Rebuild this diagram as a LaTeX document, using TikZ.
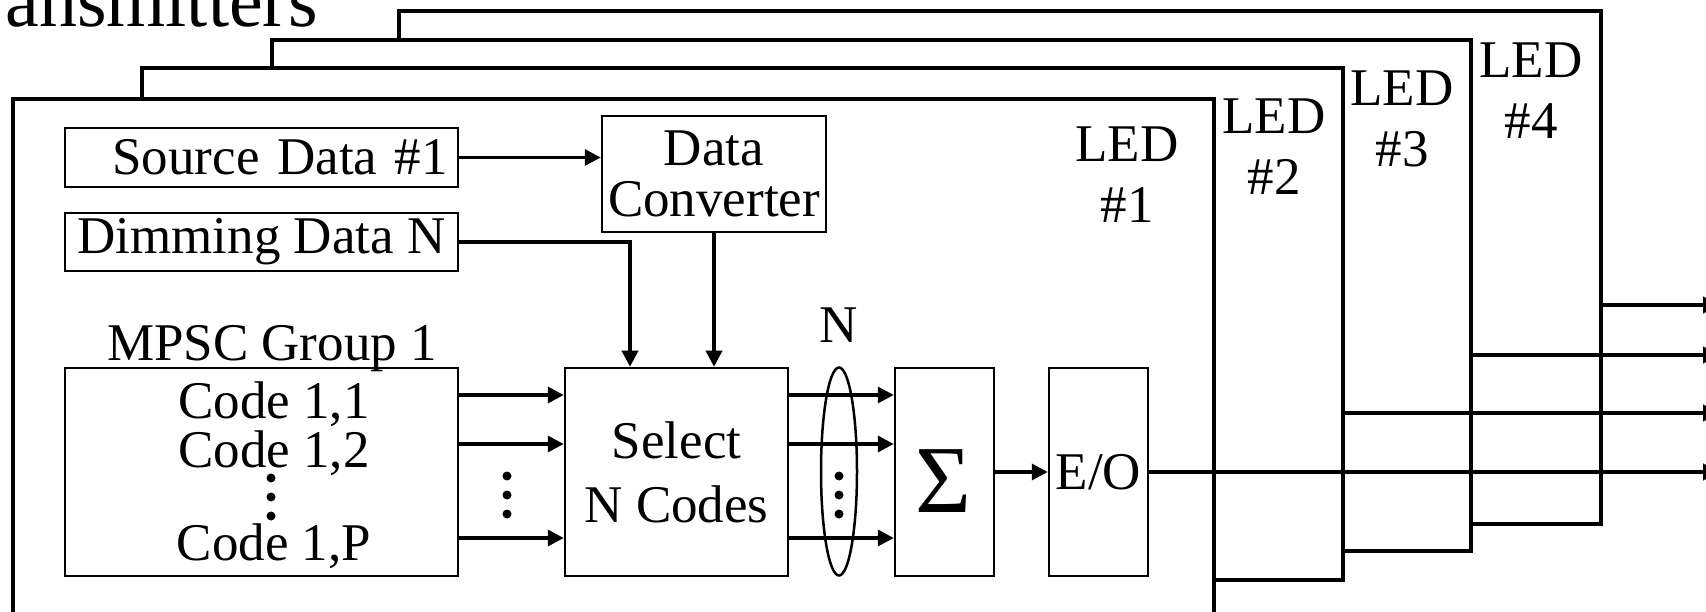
\documentclass[tikz,border=0pt]{standalone}
\usepackage{fontspec}
\setmainfont{Liberation Serif}
\usepackage{tikz}
\usetikzlibrary{arrows.meta,positioning,calc,shapes.geometric}

\begin{document}
\begin{tikzpicture}[
  x=1pt, y=-1pt,
  font=\fontsize{53}{61}\selectfont,
  frame/.style={draw, line width=4pt, fill=white, inner sep=0pt},
  box/.style={draw, line width=2.5pt, fill=white, inner sep=0pt, align=center},
  lbl/.style={inner sep=0pt, align=center},
  ar/.style={-{Triangle[length=16pt,width=16pt]}, line width=3.5pt},
  arout/.style={-{Triangle[length=16pt,width=16pt]}, line width=4pt},
]
\useasboundingbox (0,0) rectangle (1706,612);
\clip (0,0) rectangle (1706,612);

% --- stacked LED transmitters (back to front) ---
\node[frame, minimum width=1202pt, minimum height=513pt] (led4) at (1000,267.5) {};
\node[frame, minimum width=1199pt, minimum height=511pt] (led3) at (871.5,295.5) {};
\node[frame, minimum width=1201pt, minimum height=512pt] (led2) at (742.5,324) {};
\node[frame, minimum width=1201pt, minimum height=541pt] (led1) at (613.5,369.5) {};
\node[lbl, anchor=base east, font=\fontsize{76}{80}\selectfont] (title) at (318,27) {Transmitters};

\node[lbl] (t1) at (1127,175) {LED\\\#1};
\node[lbl] (t2) at (1274,147) {LED\\\#2};
\node[lbl] (t3) at (1402,119) {LED\\\#3};
\node[lbl] (t4) at (1531,91) {LED\\\#4};

% --- data inputs ---
\node[box, minimum width=393pt, minimum height=59pt, text width=373pt, align=right] (src) at (261.5,157.5) {Source Data \#1};
\node[box, minimum width=393pt, minimum height=58pt, below=23.5pt of src] (dim) {Dimming Data N};
\node[box, minimum width=224pt, minimum height=116pt] (conv) at (714,174) {Data\\[-10pt]Converter};
\draw[ar] (src.east) -- (src.east -| conv.west);

% --- code group and selection ---
\node[box, minimum width=393pt, minimum height=208pt] (mpsc) at (261.5,472) {};
\node[lbl, anchor=base] (grp) at (272,360) {MPSC Group 1};
\node[lbl, anchor=base] (c11) at (274,418) {Code 1,1};
\node[lbl, anchor=base] (c12) at (274,467) {Code 1,2};
\node[lbl, anchor=base] (c1p) at (274,560) {Code 1,P};
\node[box, minimum width=223pt, minimum height=208pt, right=104.5pt of mpsc] (sel) {Select\\[3pt]N Codes};
\node[box, minimum width=99pt, minimum height=208pt, right=104.5pt of sel] (sig) {};
\node[lbl, font=\fontsize{96}{96}\selectfont] (sgl) at (943,481) {Σ};
\node[box, minimum width=99pt, minimum height=208pt, right=52.5pt of sig] (eo) {E/O};

\draw[ar] (dim.east) -| ([xshift=-46.5pt]sel.north);
\draw[ar] (conv.south) -- (conv.south |- sel.north);
\foreach \yy in {395,444,538} {
  \draw[ar] (mpsc.east |- 0,\yy) -- (sel.west |- 0,\yy);
  \draw[ar] (sel.east |- 0,\yy) -- (sig.west |- 0,\yy);
}
\node[draw, ellipse, line width=2.5pt, minimum width=36pt, minimum height=208pt, inner sep=0pt] (bund) at (839,471.5) {};
\node[lbl, above=24pt of bund] (nlbl) {N};
\foreach \yy in {476,495,514} {
  \fill (271,\yy+2) circle (4.5pt);
  \fill (507,\yy) circle (4.5pt);
  \fill (839,\yy) circle (4.5pt);
}
\draw[ar] (sig.east) -- (eo.west);

% --- outputs ---
\coordinate (o1) at (1719,472);
\coordinate (o2) at (1719,413);
\coordinate (o3) at (1719,355);
\coordinate (o4) at (1719,305);
\draw[arout] (eo.east) -- (eo.east -| o1);
\draw[arout] (led2.east |- o2) -- (o2);
\draw[arout] (led3.east |- o3) -- (o3);
\draw[arout] (led4.east |- o4) -- (o4);
\end{tikzpicture}
\end{document}
